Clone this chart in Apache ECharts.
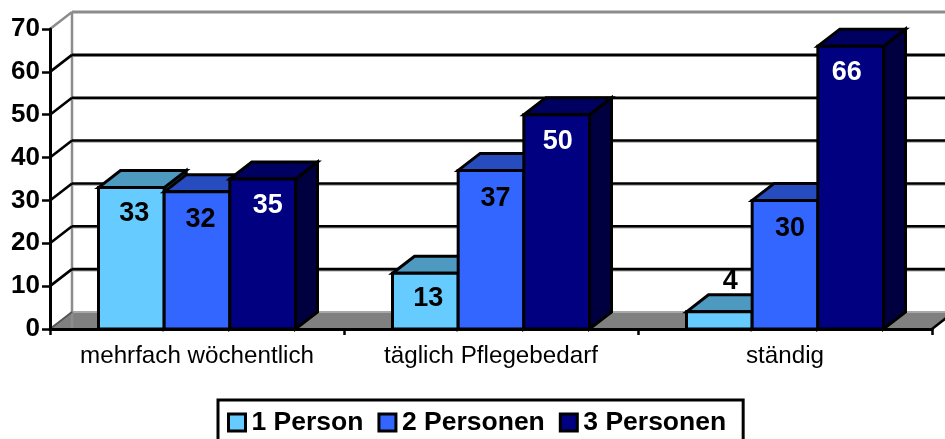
<!DOCTYPE html>
<html><head><meta charset="utf-8">
<style>html,body{margin:0;padding:0;background:#fff}#c{width:945px;height:439px}</style>
<script src="https://cdn.jsdelivr.net/npm/echarts@6/dist/echarts.min.js"></script>
</head><body><div id="c"></div>
<script>
const categories = ['mehrfach wöchentlich', 'täglich Pflegebedarf', 'ständig'];
const yTicks = [0, 10, 20, 30, 40, 50, 60, 70];
const seriesNames = ['1 Person', '2 Personen', '3 Personen'];
const onePerson = [33, 13, 4];
const twoPersons = [32, 37, 30];
const threePersons = [35, 50, 66];

const FONT = '"Liberation Sans", Arial, sans-serif';
const DX = 22, DY = -17;
const front = ['#66CCFF', '#3366FF', '#000080'];
const topFace = ['#4D99BF', '#264CBF', '#000060'];
const sideFace = ['#336680', '#1A3380', '#000040'];
const labelColor = ['#000', '#000', '#fff'];
const labelDrop = [25.5, 28, 26.5];
const labelNudgeX = [[3, 3, 11], [3.5, 4.5, 5], [5, 1, -4]];
const BAR_SHARE = 197 / 294;

function wallItem(params, api) {
  const v = api.value(0);
  const p = api.coord([0, v]);
  const band = api.size([1, 0])[0];
  const left = p[0] - band / 2;
  const right = left + band * categories.length;
  const y = p[1];
  const kids = [];
  if (v === 0) {
    kids.push({type: 'polygon', shape: {points: [[left, y], [left + DX, y + DY], [right + DX, y + DY], [right, y]]}, style: {fill: '#808080', stroke: null}});
    kids.push({type: 'line', shape: {x1: left + DX, y1: y + DY, x2: right + DX, y2: y + DY}, style: {stroke: '#a8a8a8', lineWidth: 2}});
    kids.push({type: 'line', shape: {x1: left + DX, y1: y, x2: left + DX, y2: y + DY - (yTicks[yTicks.length - 1]) * 300 / 70}, style: {stroke: '#8c8c8c', lineWidth: 2.5}});
    kids.push({type: 'line', shape: {x1: left, y1: y, x2: left + DX, y2: y + DY}, style: {stroke: '#555', lineWidth: 2}});
    kids.push({type: 'line', shape: {x1: right, y1: y, x2: right + DX, y2: y + DY}, style: {stroke: '#000', lineWidth: 2.5}});
  } else if (v === yTicks[yTicks.length - 1]) {
    kids.push({type: 'line', shape: {x1: left + DX, y1: y + DY, x2: right + DX, y2: y + DY}, style: {stroke: '#8c8c8c', lineWidth: 3}});
    kids.push({type: 'line', shape: {x1: left, y1: y, x2: left + DX, y2: y + DY}, style: {stroke: '#8c8c8c', lineWidth: 2.5}});
  } else {
    kids.push({type: 'line', shape: {x1: left + DX, y1: y + DY + 1.5, x2: right + DX, y2: y + DY + 1.5}, style: {stroke: '#a8a8a8', lineWidth: 1.5}});
    kids.push({type: 'line', shape: {x1: left + DX, y1: y + DY, x2: right + DX, y2: y + DY}, style: {stroke: '#000', lineWidth: 2.6}});
    kids.push({type: 'line', shape: {x1: left, y1: y, x2: left + DX, y2: y + DY}, style: {stroke: '#000', lineWidth: 2.6}});
  }
  return {type: 'group', children: kids};
}

function barItem(s) {
  return function (params, api) {
    const i = api.value(0), v = api.value(1);
    const c = api.coord([i, v]), base = api.coord([i, 0]);
    const band = api.size([1, 0])[0];
    const w = band * BAR_SHARE / 3;
    const x0 = c[0] - band * BAR_SHARE / 2 + s * w, x1 = x0 + w;
    const yT = c[1], yB = base[1];
    const st = (fill) => ({fill, stroke: '#000', lineWidth: 3, lineJoin: 'miter'});
    const inside = v >= 8;
    return {type: 'group', children: [
      {type: 'polygon', shape: {points: [[x1, yT], [x1 + DX, yT + DY], [x1 + DX, yB + DY], [x1, yB]]}, style: st(sideFace[s])},
      {type: 'polygon', shape: {points: [[x0, yT], [x0 + DX, yT + DY], [x1 + DX, yT + DY], [x1, yT]]}, style: st(topFace[s])},
      {type: 'rect', shape: {x: x0, y: yT, width: w, height: yB - yT}, style: st(front[s])},
      {type: 'text', z2: 50, style: {
        text: String(v), x: (x0 + x1) / 2 + labelNudgeX[s][i], y: inside ? yT + labelDrop[s] : yT - 30,
        align: 'center', verticalAlign: 'middle',
        font: 'bold 27px ' + FONT, fill: labelColor[s]
      }}
    ]};
  };
}

const values = [onePerson, twoPersons, threePersons];
const option = {
  animation: false,
  backgroundColor: '#fff',
  textStyle: {fontFamily: FONT},
  grid: {left: 50, top: 29, width: 882, height: 300, containLabel: false},
  legend: {
    data: seriesNames.map(name => ({name, icon: 'rect'})),
    left: 218, top: 400, orient: 'horizontal',
    padding: [9, 17, 14, 9],
    borderColor: '#000', borderWidth: 3, backgroundColor: '#fff',
    itemWidth: 17, itemHeight: 17, itemGap: 14,
    selectedMode: false,
    itemStyle: {borderColor: '#000', borderWidth: 3},
    textStyle: {fontSize: 26.5, fontWeight: 'bold', color: '#000', fontFamily: FONT, padding: [0, 0, 0, 1]}
  },
  xAxis: {
    type: 'category', data: categories, z: 3,
    axisLine: {show: true, lineStyle: {color: '#000', width: 3}},
    axisTick: {show: true, interval: 0, length: 6, lineStyle: {color: '#000', width: 2.5}},
    axisLabel: {fontSize: 24.2, color: '#000', margin: 15, fontFamily: FONT, interval: 0, hideOverlap: false},
    splitLine: {show: false}
  },
  yAxis: {
    type: 'value', min: 0, max: 70, interval: 10, z: 3,
    axisLine: {show: true, lineStyle: {color: '#000', width: 3}},
    axisTick: {show: true, length: 8, lineStyle: {color: '#000', width: 2.5}},
    axisLabel: {fontSize: 26, fontWeight: 'bold', color: '#000', margin: 10, fontFamily: FONT},
    splitLine: {show: false}
  },
  series: [
    {type: 'custom', name: 'walls', z: 1, silent: true, renderItem: wallItem,
     data: yTicks.map(t => [t]), encode: {y: 0}},
    ...seriesNames.map((name, s) => ({
      type: 'custom', name, z: 2 + s,
      itemStyle: {color: front[s]},
      renderItem: barItem(s),
      encode: {x: 0, y: 1},
      data: values[s].map((v, i) => [i, v])
    }))
  ]
};
echarts.init(document.getElementById('c'), null, {renderer: 'canvas'}).setOption(option);
</script></body></html>
